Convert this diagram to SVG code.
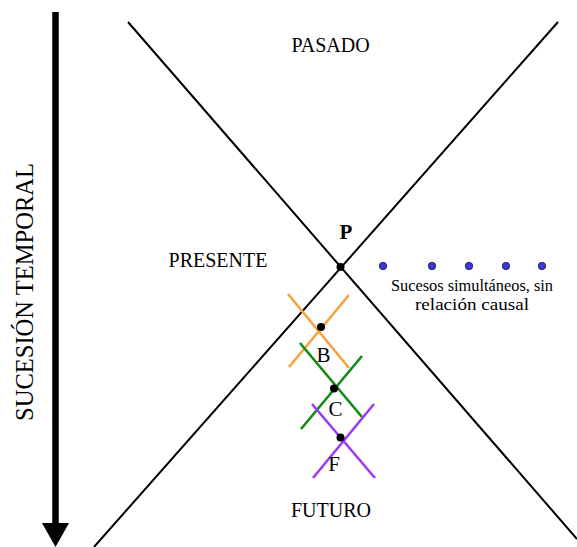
<svg xmlns="http://www.w3.org/2000/svg" width="577" height="547" viewBox="0 0 577 547">
<style>
text{font-family:"Liberation Serif","Times New Roman",serif;fill:#000}
.lbl{font-size:20px;text-anchor:middle}
.big{font-size:21px;text-anchor:middle}
.small{font-size:16px;text-anchor:middle}
.cone{stroke:#000;stroke-width:2;fill:none}
.o{stroke:#F7A23A;stroke-width:2.6}
.g{stroke:#138A13;stroke-width:2.6}
.v{stroke:#9B3BF5;stroke-width:2.6}
.dot{fill:#000}
.bdot{fill:#3A3AD0;stroke:#10105A;stroke-width:0.8}
</style>
<rect width="577" height="547" fill="#fff"/>
<g id="time-axis">
<line x1="55.5" y1="12" x2="55.5" y2="525" stroke="#000" stroke-width="6.5"/>
<polygon points="42,523 69,523 55.5,547" fill="#000"/>
<text transform="translate(33,292) rotate(-90)" font-size="26" text-anchor="middle" textLength="258" lengthAdjust="spacingAndGlyphs">SUCESIÓN  TEMPORAL</text>
</g>
<g id="connectors">
<line class="cone" x1="128" y1="22" x2="577" y2="539"/>
<line class="cone" x1="558" y1="22" x2="94" y2="547"/>
<line class="o" x1="288" y1="294" x2="349" y2="368"/>
<line class="o" x1="289" y1="367" x2="349" y2="295"/>
<line class="g" x1="300" y1="343" x2="362" y2="417"/>
<line class="g" x1="301" y1="429" x2="362" y2="356"/>
<line class="v" x1="312" y1="404" x2="375" y2="478"/>
<line class="v" x1="313" y1="478" x2="374" y2="404"/>
</g>
<g id="pasado"><text class="lbl" x="330.5" y="52">PASADO</text></g>
<g id="presente"><text class="lbl" x="218" y="267">PRESENTE</text></g>
<g id="futuro"><text class="lbl" x="331" y="517">FUTURO</text></g>
<g id="P"><circle class="dot" cx="340.5" cy="267" r="4"/><text class="big" x="346" y="239" font-weight="bold">P</text></g>
<g id="B"><circle class="dot" cx="321" cy="327" r="4"/><text class="big" x="323.5" y="362">B</text></g>
<g id="C"><circle class="dot" cx="334" cy="388.5" r="4"/><text class="big" x="335.5" y="416">C</text></g>
<g id="F"><circle class="dot" cx="340.5" cy="437.5" r="4"/><text class="big" x="334" y="471">F</text></g>
<g id="simultaneos">
<circle class="bdot" cx="383" cy="266" r="3.7"/>
<circle class="bdot" cx="432" cy="266" r="3.7"/>
<circle class="bdot" cx="469" cy="266" r="3.7"/>
<circle class="bdot" cx="506" cy="266" r="3.7"/>
<circle class="bdot" cx="542" cy="266" r="3.7"/>
<text class="small" x="472" y="291" textLength="162" lengthAdjust="spacingAndGlyphs">Sucesos simultáneos, sin</text>
<text class="small" x="472" y="310" textLength="114" lengthAdjust="spacingAndGlyphs">relación causal</text>
</g>
</svg>
